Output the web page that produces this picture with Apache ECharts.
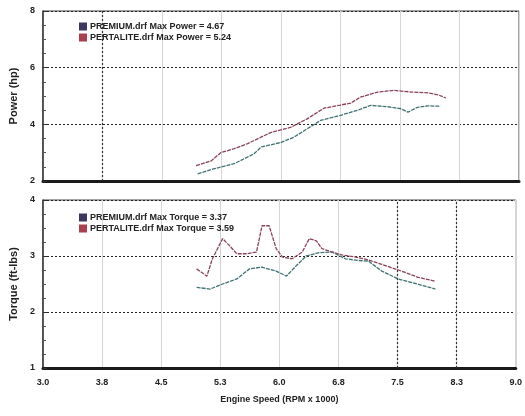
<!DOCTYPE html>
<html><head><meta charset="utf-8">
<script src="https://cdn.jsdelivr.net/npm/echarts@6/dist/echarts.min.js"></script>
<style>html,body{margin:0;padding:0;background:#fff}#c{width:525px;height:416px}</style>
</head><body><div id="c"></div>
<script>
// X tick labels (RPM x 1000)
const xTickLabels = ['3.0','3.8','4.5','5.3','6.0','6.8','7.5','8.3','9.0'];
const powerTicks = [2,4,6,8];
const torqueTicks = [1,2,3,4];

// Power (hp)
const powerPertaliteRpm = [4.93,5.12,5.24,5.41,5.58,5.75,5.87,6.12,6.34,6.54,6.75,6.88,7.0,7.22,7.42,7.64,7.85,7.98,8.08];
const powerPertaliteVal = [2.54,2.71,3.0,3.14,3.32,3.55,3.71,3.89,4.21,4.57,4.68,4.75,4.96,5.14,5.2,5.14,5.11,5.04,4.93];
const powerPremiumRpm = [4.95,5.15,5.41,5.66,5.75,6.0,6.16,6.34,6.5,6.75,6.97,7.13,7.35,7.51,7.6,7.72,7.85,8.01];
const powerPremiumVal = [2.25,2.43,2.61,2.96,3.2,3.36,3.54,3.86,4.14,4.32,4.5,4.67,4.62,4.55,4.43,4.6,4.65,4.64];

// Torque (ft-lbs)
const torquePertaliteRpm = [4.95,5.08,5.15,5.28,5.37,5.46,5.58,5.71,5.78,5.87,5.96,6.04,6.16,6.29,6.38,6.47,6.54,6.63,6.79,6.97,7.13,7.3,7.55,7.76,7.98];
const torquePertaliteVal = [2.77,2.64,2.95,3.31,3.18,3.04,3.04,3.07,3.54,3.54,3.13,2.98,2.95,3.07,3.31,3.27,3.13,3.09,3.02,2.98,2.93,2.85,2.73,2.62,2.55];
const torquePremiumRpm = [4.95,5.12,5.28,5.46,5.62,5.78,5.96,6.09,6.21,6.34,6.5,6.67,6.84,7.0,7.13,7.3,7.51,7.67,7.85,7.98];
const torquePremiumVal = [2.44,2.41,2.5,2.59,2.77,2.8,2.73,2.64,2.82,3.0,3.06,3.07,2.95,2.92,2.91,2.73,2.59,2.53,2.46,2.41];

const legendNames = {
  pPrem: 'PREMIUM.drf Max Power = 4.67',
  pPert: 'PERTALITE.drf Max Power = 5.24',
  tPrem: 'PREMIUM.drf Max Torque = 3.37',
  tPert: 'PERTALITE.drf Max Torque = 3.59'
};

const zip = (a,b) => a.map((v,i)=>[v,b[i]]);
const FONT = 'Liberation Sans';
const premColor = '#3f7273', pertColor = '#8a4456';
const premIcon = '#3c3660', pertIcon = '#a8404f';

function xAxisCfg(idx, showLabels){
  return {
    type:'value', gridIndex: idx, min:3, max:9, interval:0.75,
    axisLine:{show:true, lineStyle:{color:'#1a1a1a', width:3}},
    axisTick:{show:false},
    axisLabel:{show:showLabels, color:'#222', fontSize:9, fontWeight:'bold', fontFamily:FONT, margin:10,
      formatter: v => { const i = Math.round((v-3)/0.75); return xTickLabels[i] || ''; }},
    splitLine:{show:true, lineStyle:{color:'#d6d6d6', width:1}},
    name: showLabels ? 'Engine Speed (RPM x 1000)' : '',
    nameLocation:'middle', nameGap:27,
    nameTextStyle:{color:'#222', fontSize:9, fontWeight:'bold', fontFamily:FONT}
  };
}
function yAxisCfg(idx, min, max, name, ticks){
  return {
    type:'value', gridIndex: idx, min, max, interval:1*(ticks[1]-ticks[0]),
    name, nameLocation:'middle', nameGap:24,
    nameTextStyle:{color:'#222', fontSize:11, fontWeight:'bold', fontFamily:FONT},
    axisLine:{show:true, lineStyle:{color:'#333', width:1.5}},
    axisTick:{show:true, inside:true, length:4, lineStyle:{color:'#333'}},
    minorTick:{show:true, splitNumber:4, length:3, lineStyle:{color:'#555'}},
    axisLabel:{color:'#222', fontSize:9, fontWeight:'bold', fontFamily:FONT, margin:8,
      formatter: v => ticks.includes(v) ? String(v) : ''},
    splitLine:{show:true, lineStyle:{color:'#222', type:[2,2], width:1}}
  };
}
function line(name, xi, data, color, marks){
  const s = {name, type:'line', xAxisIndex:xi, yAxisIndex:xi, data, showSymbol:false, symbol:'none',
    lineStyle:{color, width:1.3, type:[4,1]}, itemStyle:{color}, z:5};
  if (marks) s.markLine = {silent:true, symbol:'none', label:{show:false},
    lineStyle:{color:'#333', type:[2,2], width:1.2}, data: marks.map(x=>({xAxis:x}))};
  return s;
}
const legendCfg = (top, names, icons) => ({
  top, left:74, orient:'vertical', itemGap:2, itemWidth:8, itemHeight:8, icon:'rect',
  textStyle:{fontSize:9, fontWeight:'bold', color:'#222', fontFamily:FONT, padding:[0,0,0,-2]},
  data: names.map((n,i)=>({name:n, itemStyle:{color:icons[i]}}))
});

const chart = echarts.init(document.getElementById('c'), null, {renderer:'canvas'});
chart.setOption({
  animation:false,
  backgroundColor:'#fff',
  grid:[
    {left:43, right:6, top:11, height:170, show:true, borderColor:'#444', borderWidth:1},
    {left:43, right:6, top:200, height:168, show:true, borderColor:'#444', borderWidth:1}
  ],
  legend:[
    legendCfg(17, [legendNames.pPrem, legendNames.pPert], [premIcon, pertIcon]),
    legendCfg(208, [legendNames.tPrem, legendNames.tPert], [premIcon, pertIcon])
  ],
  xAxis:[xAxisCfg(0,false), xAxisCfg(1,true)],
  yAxis:[yAxisCfg(0,2,8,'Power (hp)',powerTicks), yAxisCfg(1,1,4,'Torque (ft-lbs)',torqueTicks)],
  series:[
    line(legendNames.pPrem, 0, zip(powerPremiumRpm, powerPremiumVal), premColor, [3.75]),
    line(legendNames.pPert, 0, zip(powerPertaliteRpm, powerPertaliteVal), pertColor),
    line(legendNames.tPrem, 1, zip(torquePremiumRpm, torquePremiumVal), premColor, [7.5, 8.25]),
    line(legendNames.tPert, 1, zip(torquePertaliteRpm, torquePertaliteVal), pertColor)
  ]
});
</script></body></html>
